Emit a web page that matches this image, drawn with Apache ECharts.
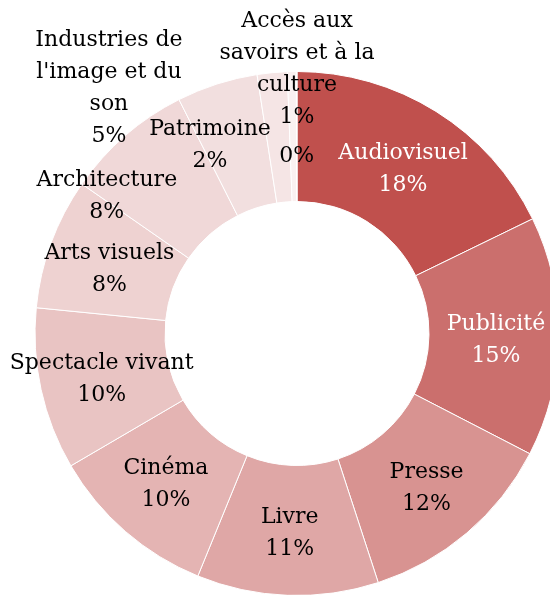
<!DOCTYPE html>
<html>
<head>
<meta charset="utf-8">
<script src="https://cdn.jsdelivr.net/npm/echarts@6/dist/echarts.min.js"></script>
<style>
	html, body { margin: 0; padding: 0; background: #fff; }
	#chartPart { width: 550px; height: 595px; }
</style>
</head>
<body>
<div id="chartPart"></div>
<script>
// secteurs (sens horaire depuis midi)
var sectorNames = ['Audiovisuel', 'Publicité', 'Presse', 'Livre', 'Cinéma', 'Spectacle vivant',
	'Arts visuels', 'Architecture', "Industries de\nl'image et du\nson", 'Patrimoine',
	'Accès aux\nsavoirs et à la\nculture', ''];
var sectorValues = [17.8, 14.8, 12.4, 11.2, 10.4, 10.0, 8.1, 7.9, 5.0, 1.85, 0.55, 0.04];
var sectorColors = ['#C0504D', '#CB6F6D', '#D89391', '#DFA7A6', '#E4B4B3', '#E9C4C3',
	'#EED2D1', '#F0D8D8', '#F2DFDF', '#F5E5E5', '#FAF1F1', '#FDF8F8'];

// décalage des étiquettes déplacées à la main
var labelShift = {0: [0, 5], 1: [-1, 4], 2: [0, 2], 5: [0, 3], 6: [0, 5],
	7: [-59, 14], 8: [-127, -55], 9: [-68, 11], 10: [4, -64], 11: [0, 23]};

function PartChart(){
	var psPieChar = echarts.init(document.getElementById('chartPart'));
	var pieData = [];
	for (var i = 0; i < sectorNames.length; i++) {
		pieData.push({
			name: sectorNames[i],
			value: sectorValues[i],
			itemStyle: {color: sectorColors[i]},
			label: {color: i < 2 ? '#ffffff' : '#000000'}
		});
	}
	var option = {
		animation: false,
		series: [{
			type: 'pie',
			center: [297, 333.5],
			radius: [132, 262],
			startAngle: 90,
			clockwise: true,
			itemStyle: {borderColor: '#ffffff', borderWidth: 1},
			label: {
				position: 'inside',
				fontFamily: 'DejaVu Serif',
				fontSize: 22,
				lineHeight: 32,
				align: 'center',
				formatter: function (p) {
					var pct = Math.round(p.percent) + '%';
					return p.name ? p.name + '\n' + pct : pct;
				}
			},
			labelLine: {show: false},
			labelLayout: function (params) {
				var s = labelShift[params.dataIndex];
				return s ? {dx: s[0], dy: s[1]} : {};
			},
			data: pieData
		}]
	};
	psPieChar.setOption(option, true);
}
//载入图表
PartChart();
</script>
</body>
</html>
